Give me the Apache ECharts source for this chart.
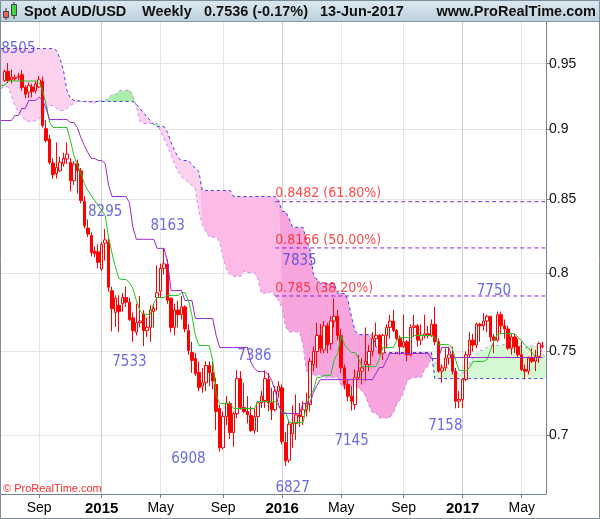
<!DOCTYPE html>
<html><head><meta charset="utf-8">
<script src="https://cdn.jsdelivr.net/npm/echarts@6/dist/echarts.min.js"></script>
<style>html,body{margin:0;padding:0;background:#fff}#c{width:600px;height:519px}</style>
</head><body><div id="c"></div>
<script>
// ---------- DATA ----------
const dates = [
'2014-06-16','2014-06-23','2014-06-30','2014-07-07','2014-07-14','2014-07-21','2014-07-28','2014-08-04','2014-08-11','2014-08-18',
'2014-08-25','2014-09-01','2014-09-08','2014-09-15','2014-09-22','2014-09-29','2014-10-06','2014-10-13','2014-10-20','2014-10-27',
'2014-11-03','2014-11-10','2014-11-17','2014-11-24','2014-12-01','2014-12-08','2014-12-15','2014-12-22','2014-12-29','2015-01-05',
'2015-01-12','2015-01-19','2015-01-26','2015-02-02','2015-02-09','2015-02-16','2015-02-23','2015-03-02','2015-03-09','2015-03-16',
'2015-03-23','2015-03-30','2015-04-06','2015-04-13','2015-04-20','2015-04-27','2015-05-04','2015-05-11','2015-05-18','2015-05-25',
'2015-06-01','2015-06-08','2015-06-15','2015-06-22','2015-06-29','2015-07-06','2015-07-13','2015-07-20','2015-07-27','2015-08-03',
'2015-08-10','2015-08-17','2015-08-24','2015-08-31','2015-09-07','2015-09-14','2015-09-21','2015-09-28','2015-10-05','2015-10-12',
'2015-10-19','2015-10-26','2015-11-02','2015-11-09','2015-11-16','2015-11-23','2015-11-30','2015-12-07','2015-12-14','2015-12-21',
'2015-12-28','2016-01-04','2016-01-11','2016-01-18','2016-01-25','2016-02-01','2016-02-08','2016-02-15','2016-02-22','2016-02-29',
'2016-03-07','2016-03-14','2016-03-21','2016-03-28','2016-04-04','2016-04-11','2016-04-18','2016-04-25','2016-05-02','2016-05-09',
'2016-05-16','2016-05-23','2016-05-30','2016-06-06','2016-06-13','2016-06-20','2016-06-27','2016-07-04','2016-07-11','2016-07-18',
'2016-07-25','2016-08-01','2016-08-08','2016-08-15','2016-08-22','2016-08-29','2016-09-05','2016-09-12','2016-09-19','2016-09-26',
'2016-10-03','2016-10-10','2016-10-17','2016-10-24','2016-10-31','2016-11-07','2016-11-14','2016-11-21','2016-11-28','2016-12-05',
'2016-12-12','2016-12-19','2016-12-26','2017-01-02','2017-01-09','2017-01-16','2017-01-23','2017-01-30','2017-02-06','2017-02-13',
'2017-02-20','2017-02-27','2017-03-06','2017-03-13','2017-03-20','2017-03-27','2017-04-03','2017-04-10','2017-04-17','2017-04-24',
'2017-05-01','2017-05-08','2017-05-15','2017-05-22','2017-05-29','2017-06-05','2017-06-12','2017-06-19'];

const open = [null,.9370,.9440,.9375,.9385,.9395,.9415,.9320,.9280,.9320,
.9290,.9320,.9365,.9006,.8930,.8756,.8680,.8700,.8750,.8785,
.8760,.8630,.8750,.8700,.8484,.8300,.8250,.8143,.8140,.8025,
.8198,.8205,.7884,.7745,.7790,.7800,.7840,.7810,.7710,.7620,
.7680,.7736,.7630,.7650,.7750,.7840,.7880,.8030,.8057,.7836,
.7650,.7760,.7730,.7780,.7630,.7494,.7457,.7372,.7290,.7310,
.7414,.7370,.7300,.7157,.6930,.7110,.7187,.7017,.7128,.7335,
.7163,.7140,.7116,.7030,.7110,.7190,.7204,.7330,.7190,.7150,
.7260,.7280,.6960,.6860,.7010,.7070,.7120,.7110,.7150,.7180,
.7420,.7500,.7600,.7510,.7660,.7550,.7690,.7720,.7600,.7400,
.7300,.7230,.7180,.7340,.7380,.7420,.7420,.7500,.7580,.7600,
.7490,.7600,.7650,.7690,.7630,.7580,.7530,.7560,.7480,.7650,
.7660,.7570,.7600,.7610,.7600,.7670,.7560,.7380,.7400,.7460,
.7480,.7380,.7200,.7210,.7330,.7480,.7570,.7540,.7670,.7660,
.7690,.7720,.7590,.7570,.7730,.7660,.7640,.7520,.7590,.7530,
.7480,.7390,.7380,.7460,.7440,.7470,.7530,null];
const high = [null,.9455,.9505,.9455,.9415,.9430,.9450,.9330,.9355,.9345,
.9365,.9405,.9400,.9070,.8960,.8790,.8905,.8800,.8830,.8905,
.8790,.8770,.8780,.8720,.8520,.8359,.8270,.8175,.8190,.8205,
.8295,.8230,.7910,.7855,.7855,.7870,.7910,.7840,.7745,.7800,
.7850,.7760,.7710,.7790,.7800,.8050,.8060,.8163,.8090,.7840,
.7800,.7820,.7850,.7790,.7670,.7560,.7490,.7440,.7400,.7440,
.7440,.7440,.7340,.7180,.7140,.7230,.7200,.7140,.7386,.7380,
.7310,.7230,.7170,.7160,.7200,.7260,.7385,.7370,.7280,.7290,
.7320,.7300,.7020,.7090,.7175,.7240,.7190,.7200,.7250,.7460,
.7530,.7680,.7670,.7690,.7680,.7720,.7835,.7760,.7640,.7420,
.7330,.7290,.7390,.7480,.7460,.7650,.7540,.7620,.7680,.7610,
.7610,.7670,.7730,.7760,.7640,.7600,.7730,.7570,.7670,.7730,
.7670,.7670,.7730,.7660,.7700,.7780,.7580,.7420,.7520,.7530,
.7530,.7400,.7260,.7340,.7500,.7620,.7610,.7680,.7680,.7740,
.7730,.7720,.7610,.7750,.7750,.7700,.7660,.7610,.7610,.7580,
.7560,.7420,.7470,.7520,.7510,.7560,.7560,null];
const low = [null,.9360,.9350,.9350,.9370,.9370,.9290,.9235,.9235,.9240,
.9270,.9310,.9015,.8904,.8745,.8643,.8645,.8690,.8730,.8750,
.8555,.8600,.8540,.8470,.8300,.8240,.8110,.8105,.8030,.8015,
.8082,.7877,.7625,.7653,.7620,.7750,.7780,.7690,.7560,.7600,
.7650,.7533,.7590,.7560,.7650,.7757,.7840,.7990,.7800,.7620,
.7600,.7650,.7700,.7620,.7480,.7370,.7350,.7260,.7250,.7260,
.7290,.7270,.7030,.6908,.6920,.7060,.6980,.6935,.7100,.7150,
.7130,.7070,.7020,.7010,.7020,.7160,.7160,.7140,.7090,.7140,
.7220,.6950,.6827,.6845,.6930,.6975,.7050,.7060,.7110,.7140,
.7380,.7400,.7490,.7490,.7490,.7510,.7650,.7570,.7370,.7270,
.7200,.7145,.7150,.7330,.7300,.7320,.7380,.7470,.7530,.7480,
.7450,.7520,.7580,.7620,.7570,.7480,.7520,.7440,.7470,.7590,
.7530,.7540,.7580,.7580,.7590,.7540,.7370,.7310,.7380,.7420,
.7360,.7158,.7160,.7160,.7320,.7460,.7500,.7520,.7560,.7630,
.7620,.7560,.7490,.7560,.7610,.7580,.7510,.7480,.7490,.7460,
.7380,.7330,.7360,.7430,.7380,.7430,.7520,null];
const close = [null,.9440,.9370,.9395,.9395,.9402,.9317,.9265,.9330,.9285,
.9345,.9375,.9030,.8920,.8760,.8672,.8725,.8762,.8790,.8820,
.8630,.8750,.8700,.8490,.8316,.8260,.8135,.8128,.8070,.8190,
.8220,.7907,.7768,.7835,.7750,.7840,.7810,.7700,.7630,.7680,
.7690,.7630,.7650,.7760,.7770,.7870,.8030,.8060,.7822,.7650,
.7760,.7730,.7780,.7640,.7506,.7445,.7366,.7282,.7310,.7414,
.7370,.7320,.7140,.6930,.7110,.7190,.7017,.7128,.7335,.7163,
.7140,.7120,.7029,.7110,.7190,.7230,.7335,.7190,.7150,.7260,
.7290,.6965,.6855,.7065,.7070,.7120,.7110,.7150,.7190,.7440,
.7500,.7600,.7520,.7660,.7540,.7690,.7720,.7600,.7400,.7300,
.7230,.7200,.7340,.7380,.7400,.7440,.7500,.7580,.7600,.7490,
.7600,.7650,.7690,.7630,.7580,.7530,.7560,.7480,.7650,.7660,
.7570,.7600,.7610,.7600,.7670,.7560,.7380,.7400,.7460,.7480,
.7380,.7200,.7210,.7330,.7480,.7570,.7540,.7670,.7660,.7690,
.7720,.7590,.7570,.7730,.7660,.7640,.7520,.7590,.7530,.7480,
.7390,.7380,.7460,.7440,.7470,.7549,.7536,null];

// Ichimoku lines
const tenkan = [.9331,.9331,.9366,.9366,.9366,.9366,.9366,.9366,.9366,.9366,
.9366,.9354,.9293,.9187,.9052,.9015,.9015,.9015,.9015,.9015,
.8919,.8810,.8738,.8688,.8610,.8561,.8525,.8490,.8456,.8421,
.8386,.8236,.8129,.8036,.7963,.7957,.7957,.7937,.7898,.7821,
.7757,.7732,.7732,.7732,.7802,.7840,.7840,.7840,.7853,.7853,
.7853,.7853,.7872,.7872,.7821,.7725,.7599,.7537,.7537,.7537,
.7537,.7445,.7234,.7187,.7187,.7187,.7187,.7157,.7157,.7157,
.7157,.7157,.7157,.7157,.7198,.7198,.7198,.7198,.7198,.7198,
.7175,.7134,.7134,.7075,.7075,.7075,.7075,.7075,.7175,.7234,
.7264,.7342,.7342,.7354,.7354,.7354,.7450,.7488,.7600,.7540,
.7515,.7494,.7494,.7457,.7408,.7408,.7408,.7408,.7408,.7457,
.7525,.7525,.7525,.7525,.7568,.7587,.7587,.7587,.7587,.7599,
.7599,.7599,.7599,.7599,.7599,.7587,.7543,.7543,.7543,.7543,
.7519,.7445,.7384,.7384,.7384,.7402,.7439,.7439,.7439,.7439,
.7451,.7506,.7568,.7605,.7611,.7611,.7611,.7611,.7611,.7587,
.7568,.7537,.7519,.7494,.7463,.7463,.7463,null];
const kijun = [.9067,.9067,.9067,.9067,.9104,.9104,.9157,.9157,.9218,.9218,
.9218,.9242,.9218,.9157,.9074,.9074,.9074,.9074,.9074,.9074,
.9052,.9052,.9015,.8941,.8883,.8832,.8789,.8789,.8774,.8774,
.8753,.8596,.8518,.8518,.8518,.8518,.8518,.8476,.8305,.8224,
.8224,.8224,.8224,.8224,.8224,.8163,.8163,.8163,.8069,.7885,
.7885,.7885,.7885,.7821,.7821,.7821,.7706,.7706,.7706,.7706,
.7706,.7706,.7597,.7525,.7525,.7525,.7525,.7525,.7525,.7525,
.7525,.7525,.7433,.7396,.7378,.7378,.7378,.7360,.7323,.7264,
.7175,.7128,.7128,.7128,.7128,.7128,.7128,.7187,.7187,.7187,
.7252,.7293,.7329,.7329,.7329,.7329,.7329,.7329,.7329,.7329,
.7329,.7329,.7329,.7329,.7329,.7329,.7329,.7329,.7366,.7402,
.7402,.7445,.7488,.7488,.7488,.7488,.7488,.7488,.7488,.7488,
.7488,.7488,.7488,.7488,.7457,.7457,.7457,.7525,.7525,.7525,
.7463,.7463,.7463,.7463,.7463,.7463,.7463,.7463,.7463,.7463,
.7463,.7463,.7463,.7463,.7463,.7463,.7463,.7463,.7463,.7463,
.7463,.7463,.7463,.7463,.7463,.7463,.7463,null];
const spanA = [.9308,.9323,.9323,.9255,.9179,.9127,.9104,.9067,.9060,.9060,
.9067,.9082,.9104,.9142,.9179,.9179,.9157,.9142,.9142,.9157,
.9179,.9195,.9210,.9210,.9210,.9210,.9199,.9199,.9215,.9215,
.9220,.9235,.9262,.9262,.9292,.9292,.9292,.9298,.9256,.9172,
.9063,.9045,.9045,.9045,.9045,.9045,.8986,.8931,.8877,.8815,
.8747,.8697,.8657,.8640,.8615,.8598,.8570,.8416,.8324,.8277,
.8241,.8238,.8238,.8207,.8102,.8023,.7991,.7978,.7978,.7978,
.8013,.8002,.8002,.8002,.7961,.7869,.7869,.7869,.7879,.7847,
.7821,.7773,.7653,.7622,.7622,.7622,.7622,.7538,.7380,.7356,
.7356,.7356,.7356,.7341,.7341,.7341,.7341,.7341,.7295,.7277,
.7288,.7288,.7288,.7279,.7261,.7231,.7175,.7131,.7131,.7102,
.7102,.7102,.7102,.7131,.7181,.7211,.7258,.7318,.7336,.7342,
.7342,.7342,.7390,.7408,.7464,.7434,.7422,.7412,.7412,.7393,
.7369,.7369,.7369,.7369,.7387,.7430,.7464,.7485,.7507,.7507,
.7528,.7538,.7538,.7538,.7538,.7544,.7544,.7544,.7544,.7544,
.7528,.7522,.7534,.7534,.7534,.7534,.7491,.7454];
const spanB = [.9619,.9619,.9619,.9619,.9619,.9619,.9619,.9619,.9619,.9619,
.9619,.9619,.9619,.9619,.9619,.9619,.9603,.9541,.9447,.9293,
.9233,.9218,.9218,.9210,.9210,.9210,.9210,.9210,.9210,.9210,
.9210,.9210,.9210,.9210,.9210,.9210,.9210,.9210,.9210,.9187,
.9157,.9127,.9097,.9067,.9037,.9022,.9022,.9022,.8978,.8905,
.8846,.8796,.8774,.8774,.8774,.8745,.8716,.8695,.8561,.8561,
.8561,.8561,.8561,.8561,.8561,.8561,.8561,.8518,.8518,.8518,
.8518,.8518,.8518,.8518,.8518,.8518,.8518,.8518,.8518,.8518,
.8490,.8414,.8414,.8366,.8305,.8305,.8305,.8305,.8216,.8156,
.7990,.7957,.7931,.7931,.7931,.7931,.7931,.7866,.7866,.7866,
.7821,.7713,.7630,.7605,.7605,.7605,.7605,.7605,.7531,.7494,
.7494,.7494,.7494,.7494,.7494,.7494,.7494,.7494,.7494,.7494,
.7494,.7494,.7494,.7494,.7494,.7335,.7335,.7335,.7335,.7335,
.7335,.7335,.7335,.7335,.7335,.7335,.7335,.7335,.7335,.7335,
.7335,.7335,.7335,.7335,.7335,.7335,.7335,.7335,.7335,.7335,
.7335,.7335,.7335,.7335,.7335,.7335,.7335,.7335];

const yTicks = [0.7, 0.75, 0.8, 0.85, 0.9, 0.95];
const monthNames = ['Jan','Feb','Mar','Apr','May','Jun','Jul','Aug','Sep','Oct','Nov','Dec'];
const fibLevels = [0.8482, 0.8166, 0.785];
const fibTexts = ['0.8482 (61.80%)', '0.8166 (50.00%)', '0.785 (38.20%)'];
const fibStart = '2015-12-21';
const pivotTexts  = ['8505','8295','8163','7533','6908','7386','6827','7835','7145','7158','7750'];
const pivotDates  = ['2014-07-21','2015-01-12','2015-05-18','2015-03-02','2015-06-29','2015-11-09','2016-01-25','2016-02-08','2016-05-23','2016-11-28','2017-03-06'];
const pivotPrices = [0.9615, 0.8410, 0.8314, 0.7438, 0.6866, 0.7472, 0.6705, 0.8079, 0.6966, 0.7052, 0.7882];
const yRange = [0.66717, 0.98310];

// ---------- BUILD ----------
const L = v => (v == null ? '-' : Math.log(v));
const isMark = d => { const m = +d.slice(5,7), day = +d.slice(8,10); return day <= 7 && (m === 1 || m === 5 || m === 9); };
const isYear = d => isMark(d) && +d.slice(5,7) === 1;
const candle = dates.map((d,i) => open[i] == null ? '-' : [L(open[i]), L(close[i]), L(low[i]), L(high[i])]);
const la = spanA.map(Math.log), lb = spanB.map(Math.log);
const cloudBase = la.map((a,i) => Math.min(a, lb[i]));
const fibIdx = dates.indexOf(fibStart);
const FONT = '"Liberation Sans", Arial, sans-serif';
const LBLFONT = '"DejaVu Sans Condensed", "Liberation Sans Narrow", "DejaVu Sans", sans-serif';

// cloud fill shades (style): index bands and colours
const pinkShades  = [{from: 0, to: 57, color: '#fdd2ee'}, {from: 58, to: 80, color: '#fbbbe6'}, {from: 81, to: 157, color: '#f7a5dc'}];
const greenShades = [{from: 0, to: 60, color: '#aaf0aa'}, {from: 61, to: 157, color: '#d4f8d4'}];

const chart = echarts.init(document.getElementById('c'), null, {renderer: 'canvas', width: 600, height: 519});
const hideLine = {width: 0, opacity: 0};
const cloudSeries = [{name: 'cloudBase', type: 'line', data: cloudBase, stack: 'cloud', stackStrategy: 'all', symbol: 'none', lineStyle: hideLine, silent: true, z: 1}];
pinkShades.forEach((s, k) => cloudSeries.push({
  name: 'cloudPink' + k, type: 'line', stack: 'cloud', stackStrategy: 'all', symbol: 'none', lineStyle: hideLine, silent: true, z: 1,
  areaStyle: {color: s.color, opacity: 1},
  data: la.map((a, i) => (i >= s.from && i <= s.to) ? Math.max(lb[i] - a, 0) : 0)
}));
greenShades.forEach((s, k) => cloudSeries.push({
  name: 'cloudGreen' + k, type: 'line', stack: 'cloud', stackStrategy: 'all', symbol: 'none', lineStyle: hideLine, silent: true, z: 1,
  areaStyle: {color: s.color, opacity: 1},
  data: la.map((a, i) => (i >= s.from && i <= s.to) ? Math.max(a - lb[i], 0) : 0)
}));
const fibSeries = fibLevels.map((v, k) => ({
  name: 'fib' + k, type: 'line', symbol: 'none', silent: true, z: 3,
  data: dates.map((d, i) => i >= fibIdx ? Math.log(v) : '-'),
  lineStyle: {color: '#8020d8', width: 1, type: [4, 3]}
}));
const option = {
  animation: false,
  textStyle: {fontFamily: FONT},
  grid: {left: 1, right: 54, top: 22, bottom: 25, containLabel: false},
  xAxis: [{
    type: 'category', data: dates, boundaryGap: false,
    axisLine: {show: true, lineStyle: {color: '#71838f', width: 1}},
    axisTick: {show: true, length: 4, interval: (i, v) => isMark(v), lineStyle: {color: '#71838f'}},
    axisLabel: {
      interval: (i, v) => isMark(v), margin: 7,
      formatter: v => { const m = +v.slice(5,7); return m === 1 ? '{y|' + v.slice(0,4) + '}' : '{m|' + monthNames[m-1] + '}'; },
      rich: {m: {fontSize: 14, color: '#000', fontFamily: FONT}, y: {fontSize: 15, fontWeight: 'bold', color: '#000', fontFamily: FONT}}
    },
    splitLine: {show: true, interval: (i, v) => isMark(v), lineStyle: {color: '#e5e5e5', width: 1}}
  }, {
    type: 'category', data: dates, boundaryGap: false, position: 'bottom',
    axisLine: {show: false}, axisTick: {show: false}, axisLabel: {show: false},
    splitLine: {show: true, interval: (i, v) => isYear(v), lineStyle: {color: '#cfcfcf', width: 1}}
  }],
  yAxis: {
    type: 'value', position: 'right', min: Math.log(yRange[0]), max: Math.log(yRange[1]), scale: true,
    axisLine: {show: true, lineStyle: {color: '#71838f', width: 1}},
    axisTick: {show: true, length: 4, inside: false, customValues: yTicks.map(Math.log), lineStyle: {color: '#71838f'}},
    axisLabel: {customValues: yTicks.map(Math.log), margin: 3, fontSize: 14, color: '#111', fontFamily: FONT,
      formatter: v => String(Math.round(Math.exp(v) * 100) / 100)},
    splitLine: {show: true, lineStyle: {color: '#e5e5e5', width: 1}}
  },
  series: [
    ...cloudSeries,
    {name: 'spanA', type: 'line', data: la, symbol: 'none', lineStyle: {color: '#c58af0', width: 1, type: [3, 3]}, silent: true, z: 2},
    {name: 'spanB', type: 'line', data: lb, symbol: 'none', lineStyle: {color: '#3a3aee', width: 1, type: [3, 3]}, silent: true, z: 2},
    ...fibSeries,
    {name: 'price', type: 'candlestick', data: candle, barWidth: 3, z: 4,
      itemStyle: {color: '#ffffff', color0: '#ff0000', borderColor: '#ff0000', borderColor0: '#ff0000', borderWidth: 1}},
    {name: 'tenkan', type: 'line', data: tenkan.map(L), symbol: 'none', lineStyle: {color: '#1fc41f', width: 1}, silent: true, z: 5},
    {name: 'kijun', type: 'line', data: kijun.map(L), symbol: 'none', lineStyle: {color: '#9a27c9', width: 1}, silent: true, z: 5},
    {name: 'pivots', type: 'scatter', symbolSize: 0, silent: true, z: 6,
      data: pivotTexts.map((t, k) => ({name: t, value: [pivotDates[k], Math.log(pivotPrices[k])]})),
      label: {show: true, position: 'inside', formatter: '{b}', color: '#4343de', fontSize: 15, fontFamily: LBLFONT}},
    {name: 'fibLabels', type: 'scatter', symbolSize: 0, silent: true, z: 6,
      data: fibTexts.map((t, k) => ({name: t, value: [fibStart, Math.log(fibLevels[k])]})),
      label: {show: true, position: 'right', distance: 0, offset: [0, -8], formatter: '{b}', color: '#ff1a1a', fontSize: 14, fontFamily: LBLFONT}}
  ],
  graphic: [
    {type: 'rect', z: 10, shape: {x: 0, y: 0, width: 600, height: 21},
      style: {fill: new echarts.graphic.LinearGradient(0, 0, 0, 1, [{offset: 0, color: '#dbe8f0'}, {offset: 1, color: '#bdd2de'}])}},
    {type: 'line', z: 11, shape: {x1: 0, y1: 21.5, x2: 600, y2: 21.5}, style: {stroke: '#8499a6', lineWidth: 1}},
    {type: 'line', z: 11, shape: {x1: 6, y1: 8, x2: 6, y2: 20}, style: {stroke: '#333', lineWidth: 1}},
    {type: 'rect', z: 12, shape: {x: 3.5, y: 11.5, width: 5, height: 6}, style: {fill: '#f06060', stroke: '#444', lineWidth: 1}},
    {type: 'line', z: 11, shape: {x1: 14, y1: 2, x2: 14, y2: 19}, style: {stroke: '#333', lineWidth: 1}},
    {type: 'rect', z: 12, shape: {x: 11.5, y: 4.5, width: 5, height: 11}, style: {fill: '#3ed83e', stroke: '#444', lineWidth: 1}},
    {type: 'text', z: 12, style: {x: 24, y: 12, text: 'Spot AUD/USD', font: 'bold 14.5px ' + FONT, fill: '#111', verticalAlign: 'middle'}},
    {type: 'text', z: 12, style: {x: 142, y: 12, text: 'Weekly', font: 'bold 14.5px ' + FONT, fill: '#111', verticalAlign: 'middle'}},
    {type: 'text', z: 12, style: {x: 204, y: 12, text: '0.7536 (-0.17%)', font: 'bold 14.5px ' + FONT, fill: '#111', verticalAlign: 'middle'}},
    {type: 'text', z: 12, style: {x: 320, y: 12, text: '13-Jun-2017', font: 'bold 14.5px ' + FONT, fill: '#111', verticalAlign: 'middle'}},
    {type: 'text', z: 12, style: {x: 596, y: 12, text: 'www.ProRealTime.com', font: 'bold 14.5px ' + FONT, fill: '#111', align: 'right', verticalAlign: 'middle'}},
    {type: 'text', z: 12, style: {x: 3, y: 489, text: '\u00a9 ProRealTime.com', font: '11px ' + FONT, fill: '#ff2a2a', verticalAlign: 'middle'}},
    {type: 'rect', z: 20, shape: {x: 0.5, y: 0.5, width: 599, height: 518}, style: {fill: 'none', stroke: '#7b8d99', lineWidth: 1}}
  ]
};
chart.setOption(option);
</script>
</body></html>
